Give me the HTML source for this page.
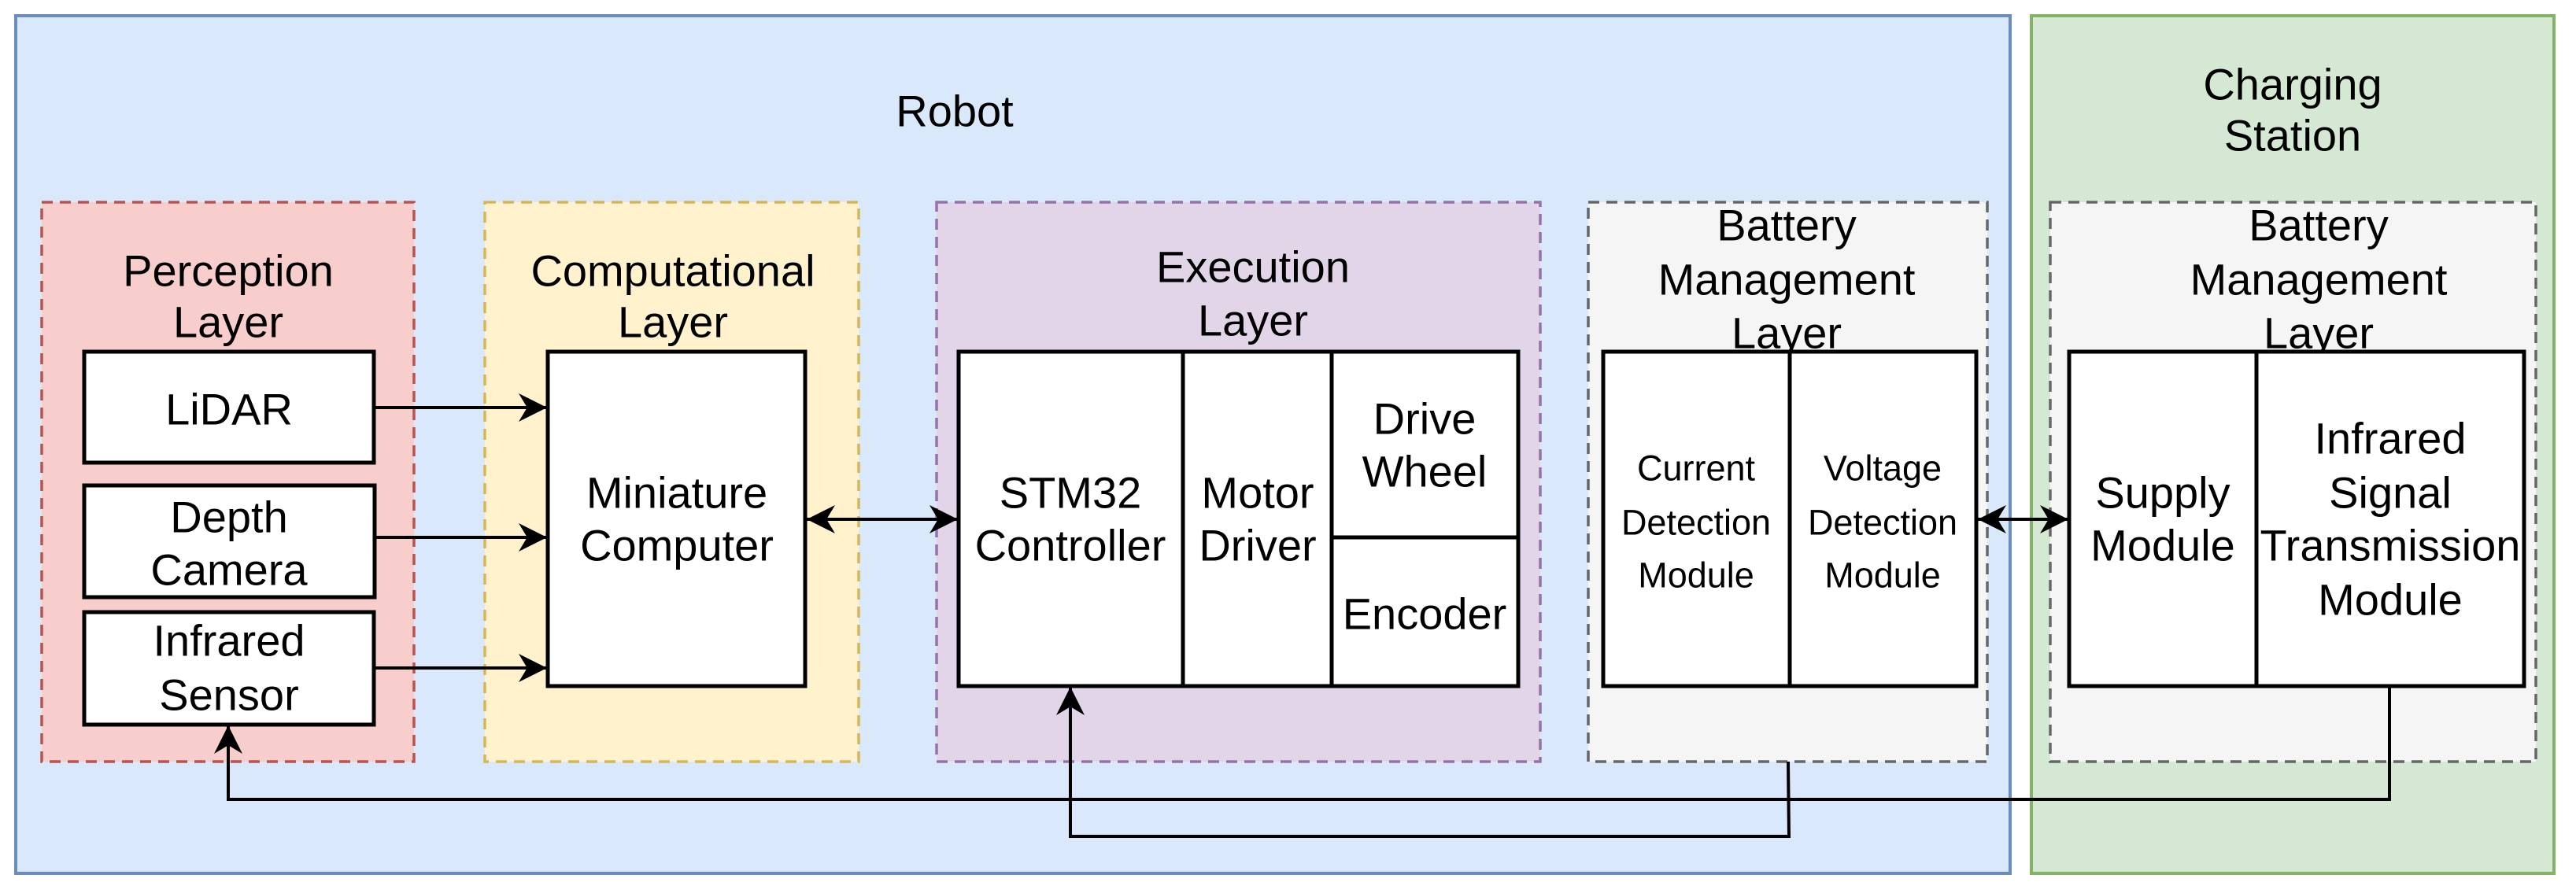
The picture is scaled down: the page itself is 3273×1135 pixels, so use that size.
<!DOCTYPE html>
<html><head><meta charset="utf-8"><style>html,body{margin:0;padding:0;background:#fff}svg{display:block}text{font-family:"Liberation Sans",Arial,sans-serif;fill:#000;text-anchor:middle;dominant-baseline:central}</style></head>
<body>
<svg width="3273" height="1135" viewBox="0 0 3273 1135" xmlns="http://www.w3.org/2000/svg">
<defs>
<marker id="a" viewBox="0 0 10 10" refX="10" refY="5" markerWidth="38" markerHeight="36" markerUnits="userSpaceOnUse" orient="auto-start-reverse"><path d="M0,0 L10,5 L0,10 L3,5 z" fill="#000"/></marker>
</defs>
<rect x="20" y="20" width="2534" height="1090" fill="#dae8fc" stroke="#6c8ebf" stroke-width="4"/>
<rect x="2581" y="20" width="664" height="1090" fill="#d5e8d4" stroke="#82b366" stroke-width="4"/>
<text x="1213" y="141" font-size="56">Robot</text>
<text x="2913" y="107" font-size="56">Charging</text>
<text x="2913" y="172" font-size="56">Station</text>

<g stroke-width="3.5" stroke-dasharray="14 9">
<rect x="53" y="257" width="473" height="711" fill="#f8cecc" stroke="#b85450"/>
<rect x="616" y="257" width="475" height="711" fill="#fff2cc" stroke="#d6b656"/>
<rect x="1190" y="257" width="767" height="711" fill="#e1d5e7" stroke="#9673a6"/>
<rect x="2018" y="257" width="507" height="711" fill="#f5f5f5" stroke="#666"/>
<rect x="2605" y="257" width="617" height="711" fill="#f5f5f5" stroke="#666"/>
</g>
<g font-size="56">
<text x="290" y="344">Perception</text><text x="290" y="409">Layer</text>
<text x="855" y="344">Computational</text><text x="855" y="409">Layer</text>
<text x="1592" y="339">Execution</text><text x="1592" y="407">Layer</text>
<text x="2270" y="286">Battery</text><text x="2270" y="355">Management</text><text x="2270" y="423">Layer</text>
<text x="2946" y="286">Battery</text><text x="2946" y="355">Management</text><text x="2946" y="423">Layer</text>
</g>

<g fill="#fff" stroke="#000" stroke-width="5">
<rect x="107" y="447" width="368" height="141"/>
<rect x="107" y="617" width="369" height="142"/>
<rect x="107" y="778" width="368" height="143"/>
<rect x="696" y="447" width="327" height="425"/>
<rect x="1218" y="447" width="711" height="425"/>
<rect x="2037" y="447" width="474" height="425"/>
<rect x="2629" y="447" width="578" height="425"/>
</g>
<g stroke="#000" stroke-width="5" fill="none">
<line x1="1503" y1="447" x2="1503" y2="872"/>
<line x1="1692" y1="447" x2="1692" y2="872"/>
<line x1="1692" y1="683" x2="1929" y2="683"/>
<line x1="2274" y1="447" x2="2274" y2="872"/>
<line x1="2867" y1="447" x2="2867" y2="872"/>
</g>
<g font-size="56">
<text x="291" y="520">LiDAR</text>
<text x="291" y="657">Depth</text><text x="291" y="724">Camera</text>
<text x="291" y="814">Infrared</text><text x="291" y="883">Sensor</text>
<text x="860" y="626">Miniature</text><text x="860" y="693">Computer</text>
<text x="1360" y="626">STM32</text><text x="1360" y="693">Controller</text>
<text x="1598" y="626">Motor</text><text x="1598" y="693">Driver</text>
<text x="1810" y="532">Drive</text><text x="1810" y="599">Wheel</text>
<text x="1810" y="780">Encoder</text>
<text x="2748" y="626">Supply</text><text x="2748" y="693">Module</text>
<text x="3037" y="557">Infrared</text><text x="3037" y="626">Signal</text><text x="3037" y="693">Transmission</text><text x="3037" y="762">Module</text>
</g>
<g font-size="45">
<text x="2155" y="595">Current</text><text x="2155" y="664">Detection</text><text x="2155" y="731">Module</text>
<text x="2392" y="595">Voltage</text><text x="2392" y="664">Detection</text><text x="2392" y="731">Module</text>
</g>

<g stroke="#000" stroke-width="4" fill="none">
<line x1="475" y1="518" x2="695" y2="518" marker-end="url(#a)"/>
<line x1="476" y1="683" x2="695" y2="683" marker-end="url(#a)"/>
<line x1="475" y1="849" x2="695" y2="849" marker-end="url(#a)"/>
<line x1="1025" y1="660" x2="1217" y2="660" marker-start="url(#a)" marker-end="url(#a)"/>
<line x1="2513" y1="660" x2="2628" y2="660" marker-start="url(#a)" marker-end="url(#a)"/>
<polyline points="3036,872 3036,1016 290,1016 290,922" marker-end="url(#a)"/>
<polyline points="2272,968 2273,1063 1360,1063 1360,873" marker-end="url(#a)"/>
</g>
</svg>
</body></html>
